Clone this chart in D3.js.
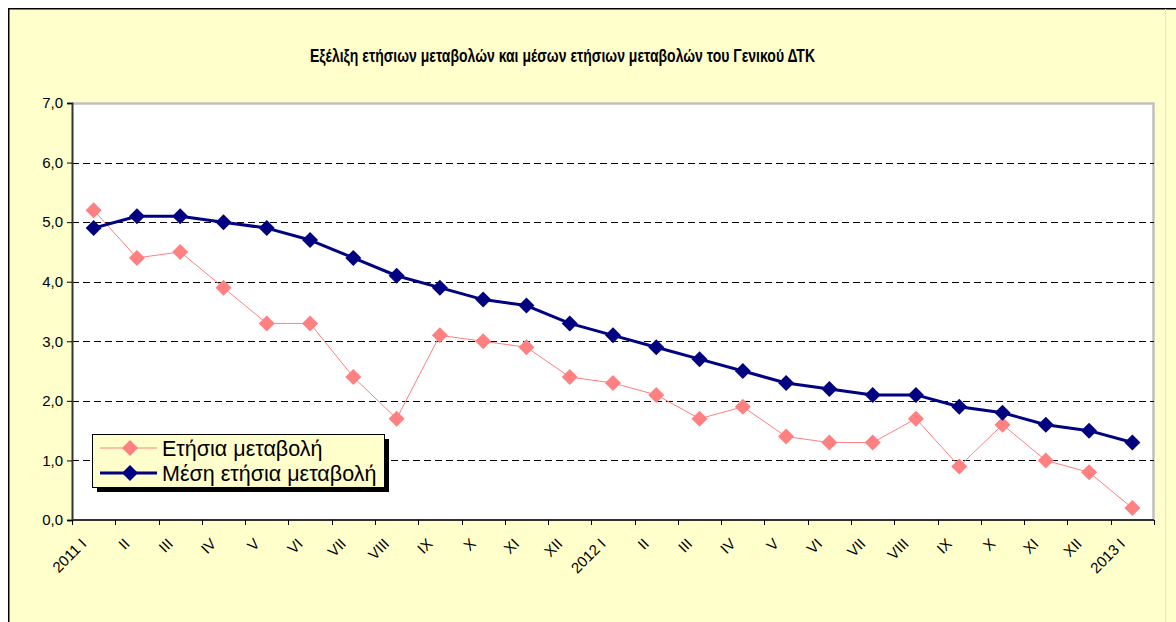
<!DOCTYPE html>
<html>
<head>
<meta charset="utf-8">
<script src="https://cdn.jsdelivr.net/npm/d3@7"></script>
<style>
  body { margin: 0; background: #fff; }
  svg { display: block; }
</style>
</head>
<body>
<svg id="chart" width="1176" height="622"></svg>
<script>
// μήνες
var categories = ["2011 I", "II", "III", "IV", "V", "VI", "VII", "VIII", "IX", "X", "XI", "XII",
  "2012 I", "II", "III", "IV", "V", "VI", "VII", "VIII", "IX", "X", "XI", "XII", "2013 I"];
var etisia = [5.2, 4.4, 4.5, 3.9, 3.3, 3.3, 2.4, 1.7, 3.1, 3.0, 2.9, 2.4,
  2.3, 2.1, 1.7, 1.9, 1.4, 1.3, 1.3, 1.7, 0.9, 1.6, 1.0, 0.8, 0.2];
var mesi = [4.9, 5.1, 5.1, 5.0, 4.9, 4.7, 4.4, 4.1, 3.9, 3.7, 3.6, 3.3,
  3.1, 2.9, 2.7, 2.5, 2.3, 2.2, 2.1, 2.1, 1.9, 1.8, 1.6, 1.5, 1.3];
var yTicks = [0, 1, 2, 3, 4, 5, 6, 7];
var seriesNames = ["Ετήσια μεταβολή", "Μέση ετήσια μεταβολή"];
var title = "Εξέλιξη ετήσιων μεταβολών και μέσων ετήσιων μεταβολών του Γενικού ΔΤΚ";

var svg = d3.select("#chart");
var font = "Arial, 'Liberation Sans', sans-serif";

// φόντο
svg.append("rect").attr("x", 0).attr("y", 0).attr("width", 1176).attr("height", 622).attr("fill", "#fff");
svg.append("rect").attr("x", 8).attr("y", 8).attr("width", 1168).attr("height", 614).attr("fill", "#FFFFCC");
svg.append("path").attr("d", "M8.75,622V8.75H1176")
  .attr("fill", "none").attr("stroke", "#000").attr("stroke-width", 1.5);
svg.append("line").attr("x1", 1165.5).attr("x2", 1165.5).attr("y1", 9).attr("y2", 622)
  .attr("stroke", "#e6e6b8").attr("stroke-width", 1);

svg.append("text")
  .attr("x", 310).attr("y", 62)
  .attr("textLength", 505)
  .attr("lengthAdjust", "spacingAndGlyphs")
  .attr("font-family", font)
  .attr("font-weight", "bold")
  .attr("font-size", 18.5)
  .text(title);

var margin = {top: 103, right: 22, bottom: 102, left: 72};
var width = 1176 - margin.left - margin.right;
var height = 622 - margin.top - margin.bottom;

var g = svg.append("g").attr("transform", "translate(" + margin.left + "," + margin.top + ")");

var x = d3.scaleBand().domain(d3.range(categories.length)).range([0, width]);
var y = d3.scaleLinear().domain([0, 7]).range([height, 0]);

// plot area
g.append("rect").attr("width", width).attr("height", height).attr("fill", "#fff");
g.append("path")
  .attr("d", "M0,0.5H" + (width - 0.5) + "V" + height)
  .attr("fill", "none").attr("stroke", "#c0c0c0").attr("stroke-width", 2.5);

// gridlines
g.selectAll(".grid").data(yTicks.filter(function(d){ return d > 0 && d < 7; }))
  .enter().append("line")
  .attr("x1", 0).attr("x2", width)
  .attr("y1", function(d){ return Math.round(y(d)) + 0.5; })
  .attr("y2", function(d){ return Math.round(y(d)) + 0.5; })
  .attr("stroke", "#000").attr("stroke-width", 1)
  .attr("stroke-dasharray", "7,4");

// y axis
var yAxis = d3.axisLeft(y).tickValues(yTicks).tickSize(5).tickPadding(4)
  .tickFormat(function(d){ return d3.format(".1f")(d).replace(".", ","); });
var ya = g.append("g").call(yAxis);
ya.select(".domain").attr("stroke", "#333").attr("stroke-width", 2);
ya.selectAll("text").attr("font-family", font).attr("font-size", 15).attr("fill", "#000");

// x axis
var xa = g.append("g").attr("transform", "translate(0," + height + ")");
xa.append("line").attr("x1", 0).attr("x2", width).attr("stroke", "#333").attr("stroke-width", 2);
xa.selectAll(".tk").data(d3.range(categories.length + 1))
  .enter().append("line")
  .attr("x1", function(i){ return Math.round(i * x.step()) + 0.5; })
  .attr("x2", function(i){ return Math.round(i * x.step()) + 0.5; })
  .attr("y1", 0).attr("y2", 5)
  .attr("stroke", "#000");
xa.selectAll(".lbl").data(categories)
  .enter().append("text")
  .attr("transform", function(d, i){
    return "translate(" + (x(i) + x.bandwidth() / 2 - 10) + ",21) rotate(-45)";
  })
  .attr("text-anchor", "end")
  .attr("dy", "0.35em")
  .attr("font-family", font)
  .attr("font-size", 15)
  .text(function(d){ return d; });

// series
var series = [
  {name: seriesNames[0], values: etisia, color: "#FF8080", width: 1, size: 14},
  {name: seriesNames[1], values: mesi, color: "#000080", width: 3, size: 14}
];

var line = d3.line()
  .x(function(d, i){ return x(i) + x.bandwidth() / 2; })
  .y(function(d){ return y(d); });

function diamond(s){
  var h = s / 2 + 1;
  return "M0," + (-h) + "L" + h + ",0L0," + h + "L" + (-h) + ",0Z";
}

series.forEach(function(s){
  g.append("path")
    .attr("d", line(s.values))
    .attr("fill", "none")
    .attr("stroke", s.color)
    .attr("stroke-width", s.width)
    .attr("stroke-linejoin", "round");
  g.selectAll(null).data(s.values)
    .enter().append("path")
    .attr("transform", function(d, i){ return "translate(" + (x(i) + x.bandwidth() / 2) + "," + y(d) + ")"; })
    .attr("d", diamond(s.size))
    .attr("fill", s.color);
});

// legend
var lg = svg.append("g").attr("transform", "translate(92,434)");
lg.append("rect").attr("x", 5).attr("y", 5).attr("width", 292).attr("height", 53).attr("fill", "#000");
lg.append("rect").attr("x", 0.5).attr("y", 0.5).attr("width", 292).attr("height", 53)
  .attr("fill", "#FFFFCC").attr("stroke", "#000").attr("stroke-width", 1);
series.forEach(function(s, i){
  var cy = 14 + i * 25;
  lg.append("line").attr("x1", 8).attr("x2", 65).attr("y1", cy).attr("y2", cy)
    .attr("stroke", s.color).attr("stroke-width", s.width);
  lg.append("path").attr("transform", "translate(38," + cy + ")").attr("d", diamond(s.size)).attr("fill", s.color);
  lg.append("text").attr("x", 70).attr("y", cy).attr("dy", "0.35em")
    .attr("font-family", font).attr("font-size", 21.5)
    .text(s.name);
});
</script>
</body>
</html>
